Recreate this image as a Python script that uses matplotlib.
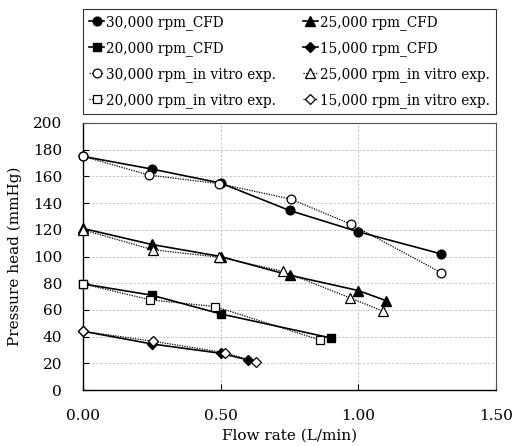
import matplotlib
matplotlib.use("Agg")
import matplotlib.pyplot as plt

plt.rcParams['font.family'] = ['DejaVu Serif']
plt.rcParams['mathtext.fontset'] = 'dejavuserif'

# CFD data
cfd30_x = [0.0, 0.25, 0.50, 0.75, 1.00, 1.30]
cfd30_y = [175, 165.5, 155, 134.5, 118.5, 102]
cfd25_x = [0.0, 0.25, 0.50, 0.75, 1.00, 1.10]
cfd25_y = [121, 109, 100, 86, 74.5, 67]
cfd20_x = [0.0, 0.25, 0.50, 0.90]
cfd20_y = [79.5, 71, 57, 39]
cfd15_x = [0.0, 0.25, 0.50, 0.60]
cfd15_y = [44, 34.5, 27.5, 22.5]

# in vitro experiment data
exp30_x = [0.0, 0.24, 0.495, 0.755, 0.975, 1.30]
exp30_y = [175, 161, 154.5, 143, 124, 88]
exp25_x = [0.0, 0.255, 0.495, 0.725, 0.97, 1.09]
exp25_y = [120, 105, 99.5, 89, 69, 59]
exp20_x = [0.0, 0.245, 0.48, 0.86]
exp20_y = [79.5, 67.5, 62.5, 37.5]
exp15_x = [0.0, 0.255, 0.515, 0.63]
exp15_y = [44, 36.5, 28, 21]

labels_cfd = ["30,000 rpm_CFD", "25,000 rpm_CFD", "20,000 rpm_CFD", "15,000 rpm_CFD"]
labels_exp = ["30,000 rpm_in vitro exp.", "25,000 rpm_in vitro exp.",
              "20,000 rpm_in vitro exp.", "15,000 rpm_in vitro exp."]
markers = ['o', '^', 's', 'D']
msizes = [6.3, 6.5, 6.0, 4.6]

fig = plt.figure(figsize=(5.13, 4.46), dpi=100)
ax = fig.add_axes([83/513, 1-390/446, (496-83)/513, (390-123)/446])

cfd = [(cfd30_x, cfd30_y), (cfd25_x, cfd25_y), (cfd20_x, cfd20_y), (cfd15_x, cfd15_y)]
exp = [(exp30_x, exp30_y), (exp25_x, exp25_y), (exp20_x, exp20_y), (exp15_x, exp15_y)]

h_cfd = []
h_exp = []
for (x, y), lab, m, ms in zip(cfd, labels_cfd, markers, msizes):
    l, = ax.plot(x, y, color='black', lw=1.2, marker=m, ms=ms,
                 mfc='black', mec='black', label=lab, zorder=3, clip_on=False)
    h_cfd.append(l)
for (x, y), lab, m, ms in zip(exp, labels_exp, markers, msizes):
    l, = ax.plot(x, y, color='black', lw=0.9, ls=(0, (1, 1)), marker=m, ms=ms,
                 mfc='white', mec='black', mew=0.9, label=lab, zorder=4, clip_on=False)
    h_exp.append(l)

ax.set_xlim(0, 1.5)
ax.set_ylim(0, 200)
ax.set_xticks([0, 0.5, 1.0, 1.5])
ax.set_xticklabels(["0.00", "0.50", "1.00", "1.50"])
ax.set_yticks(range(0, 201, 20))
ax.tick_params(axis='x', direction='in', labelsize=11, length=4, pad=14)
ax.tick_params(axis='y', direction='in', labelsize=11, length=4, pad=15)
ax.grid(True, color='#c0c0c0', ls='--', lw=0.6, dashes=(3, 2))
ax.set_axisbelow(True)
for s in ['top', 'right']:
    ax.spines[s].set_color('#505050')
ax.spines['left'].set_linewidth(1.0)
ax.spines['bottom'].set_linewidth(1.0)

ax.set_xlabel("Flow rate (L/min)", fontsize=11, labelpad=4)
ax.set_ylabel("Pressure head (mmHg)", fontsize=11, labelpad=8)

handles = [h_cfd[0], h_cfd[2], h_exp[0], h_exp[2], h_cfd[1], h_cfd[3], h_exp[1], h_exp[3]]
leg = fig.legend(handles=handles, labels=[h.get_label() for h in handles],
                 loc='upper left', bbox_to_anchor=(83/513, 1-115/446, 413/513, 106/446),
                 mode='expand', ncol=2,
                 fontsize=9.8, frameon=True, fancybox=False, edgecolor='black',
                 handlelength=1.1, handletextpad=0.15, columnspacing=0.3,
                 labelspacing=0.82, borderpad=0.45, borderaxespad=0)
leg.get_frame().set_linewidth(0.8)

fig.savefig("out.png", dpi=100)
